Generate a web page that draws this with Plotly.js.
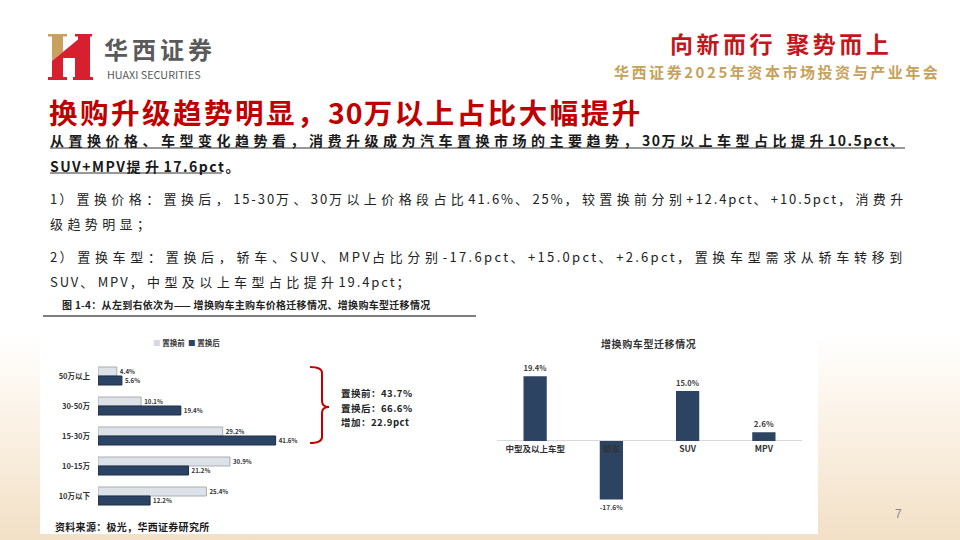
<!DOCTYPE html>
<html><head><meta charset="utf-8">
<script src="https://cdn.plot.ly/plotly-3.0.1.min.js"></script>
<style>
html,body{margin:0;padding:0;width:960px;height:540px;overflow:hidden;}
body{background:linear-gradient(to bottom,#ffffff 0%,#ffffff 62%,#fbf2e6 78%,#f2e0c6 100%);}
#chart{width:960px;height:540px;}
</style></head><body><div id="chart"></div>
<script>
// ---- data ----
const priceCats = ['50万以上','30-50万','15-30万','10-15万','10万以下'];
const priceBefore = [4.4,10.1,29.2,30.9,25.4];
const priceAfter = [5.6,19.4,41.6,21.2,12.2];
const seriesNames = ['置换前','置换后'];
const typeCats = ['中型及以上车型','轿车','SUV','MPV'];
const typeChange = [19.4,-17.6,15.0,2.6];

// ---- helpers ----
const W=960,H=540;
const px=x=>x/W, py=y=>1-y/H;
const F='"Noto Sans CJK SC","Noto Sans",sans-serif';
function sp(str, lsF, lsH){
  return str.replace(/([\u2014\u3000-\u303f\u4e00-\u9fff\uff00-\uffef]+)|([^\u2014\u3000-\u303f\u4e00-\u9fff\uff00-\uffef]+)/g,
    (m,a,b)=> a ? `<span style="letter-spacing:${lsF}px">${a}</span>` : `<span style="letter-spacing:${lsH}px">${b}</span>`);
}
function ann(text,x,y,size,color,weight,xanchor){
  return {xref:'paper',yref:'paper',x:px(x),y:py(y),xanchor:xanchor||'left',yanchor:'middle',
    text:text,showarrow:false,borderpad:0,font:{family:F,size:size,color:color,weight:weight||400}};
}
function path(pts){
  return pts.replace(/(-?\d+(\.\d+)?),(-?\d+(\.\d+)?)/g,(m,a,b,c)=>px(+a).toFixed(5)+','+py(+c).toFixed(5));
}
const pct=v=>v.toFixed(1)+'%';
const sum3=a=>a.slice(0,3).reduce((s,v)=>s+v,0);

// ---- traces ----
const traces=[
  {type:'bar',orientation:'h',name:seriesNames[0],y:priceCats,x:priceBefore,xaxis:'x',yaxis:'y',
   marker:{color:'#dde2e9',line:{color:'#a9adb3',width:1}},
   text:priceBefore.map(pct),textposition:'outside',cliponaxis:false,
   textfont:{family:F,size:7.5,color:'#333',weight:700}},
  {type:'bar',orientation:'h',name:seriesNames[1],y:priceCats,x:priceAfter,xaxis:'x',yaxis:'y',
   marker:{color:'#2b4465',line:{color:'#1b2c42',width:1}},
   text:priceAfter.map(pct),textposition:'outside',cliponaxis:false,
   textfont:{family:F,size:7.5,color:'#333',weight:700}},
  {type:'bar',x:typeCats,y:typeChange,xaxis:'x2',yaxis:'y2',width:0.305,offset:-0.1525,
   marker:{color:'#2c4361'},
   text:typeChange.map(pct),textposition:'outside',cliponaxis:false,
   textfont:{family:F,size:8,color:'#404040',weight:700}}
];

// ---- layout ----
const annotations=[
  ann(sp('华西证券',4,0),103,48.5,24,'#5a5a5a',700),
  ann('HUAXI SECURITIES',106,74,10.8,'#595959',400),
  ann(sp('向新而行 聚势而上',3.5,5),669,43,23,'#c4161c',700),
  ann(sp('华西证券2025年资本市场投资与产业年会',2.55,2.55),613,72,15,'#c6a25a',700),
  ann(sp('换购升级趋势明显，30万以上占比大幅提升',2.5,1),48,112,28.5,'#c00000',700),
  ann(sp('从置换价格、车型变化趋势看，消费升级成为汽车置换市场的主要趋势，30万以上车型占比提升10.5pct、',4.5,1.5),49,140,14,'#1a1a1a',700),
  ann(sp('SUV+MPV提升17.6pct。',4.5,1.5),49,166,14,'#1a1a1a',700),
  ann(sp('1）置换价格：置换后，15-30万、30万以上价格段占比41.6%、25%，较置换前分别+12.4pct、+10.5pct，消费升',4.4,1.9),49,199,13,'#222',400),
  ann(sp('级趋势明显；',4.4,1.9),49,224,13,'#222',400),
  ann(sp('2）置换车型：置换后，轿车、SUV、MPV占比分别-17.6pct、+15.0pct、+2.6pct，置换车型需求从轿车转移到',4.7,2.3),49,256,13,'#222',400),
  ann(sp('SUV、MPV，中型及以上车型占比提升19.4pct；',4.4,1.9),49,281,13,'#222',400),
  ann(sp('图 1-4：从左到右依次为—— 增换购车主购车价格迁移情况、增换购车型迁移情况',0.3,0.3),61,304,10,'#222',700),
  ann(`<span style="color:#d5dae2">■</span> ${seriesNames[0]}  <span style="color:#2b4465">■</span> ${seriesNames[1]}`,152,342,7.5,'#333',700),
  ann(sp(`置换前：${sum3(priceBefore).toFixed(1)}%`,0.5,0.5),340,393,9.5,'#222',700),
  ann(sp(`置换后：${sum3(priceAfter).toFixed(1)}%`,0.5,0.5),340,407.5,9.5,'#222',700),
  ann(sp(`增加：${(sum3(priceAfter)-sum3(priceBefore)).toFixed(1)}pct`,0.5,0.5),340,422,9.5,'#222',700),
  ann(sp('增换购车型迁移情况',0.6,0),648,343,10,'#333',700,'center'),
  ann(sp('资料来源：极光，华西证券研究所',0.3,0.3),54,526,10,'#1a1a1a',700),
  {xref:'paper',yref:'paper',x:px(898),y:py(514),xanchor:'center',yanchor:'middle',text:'7',showarrow:false,
   font:{family:'"Liberation Sans Narrow","Liberation Sans",sans-serif',size:12,color:'#8a8a8a'}}
];

const shapes=[
  {type:'rect',xref:'paper',yref:'paper',x0:px(40),x1:px(818),y0:py(534),y1:py(289),fillcolor:'#ffffff',line:{width:0},layer:'below'},
  {type:'line',xref:'paper',yref:'paper',x0:px(43),x1:px(476),y0:py(316),y1:py(316),line:{color:'#555',width:1.5}},
  {type:'line',xref:'paper',yref:'paper',x0:px(50),x1:px(905),y0:py(148),y1:py(148),line:{color:'#333',width:1.2}},
  {type:'line',xref:'paper',yref:'paper',x0:px(50),x1:px(222),y0:py(173),y1:py(173),line:{color:'#333',width:1.2}},
  {type:'path',xref:'paper',yref:'paper',line:{color:'#c00000',width:2},
   path:path('M 310,367 Q 322,367 322,373 L 322,401 Q 322,407 329,407 Q 322,407 322,413 L 322,437 Q 322,443 310,443')},
  // logo
  {type:'path',xref:'paper',yref:'paper',fillcolor:'#c8a25c',line:{width:0},
   path:path('M 48,34 L 67,34 L 67,36.5 L 63,36.5 L 63,52 L 52,61 L 52,36.5 L 48,36.5 Z')},
  {type:'path',xref:'paper',yref:'paper',fillcolor:'#d71f2f',line:{width:0},
   path:path('M 52,61 L 78,39.6 L 78,36.5 L 75,36.5 L 75,34 L 92,34 L 92,36.5 L 90,36.5 L 90,77 L 93,77 L 93,80 L 73,80 L 73,77 L 75,77 L 75,58 L 63,58 L 63,77 L 67,77 L 67,80 L 48,80 L 48,77 L 52,77 Z')}
];

const layout={
  width:960,height:540,margin:{l:0,r:0,t:0,b:0},
  paper_bgcolor:'rgba(0,0,0,0)',plot_bgcolor:'rgba(0,0,0,0)',
  showlegend:false,barmode:'group',bargap:0.4,bargroupgap:0,
  font:{family:F},
  xaxis:{domain:[px(98),px(311.5)],range:[0,50],visible:false,anchor:'y',fixedrange:true},
  yaxis:{domain:[py(511),py(361)],type:'category',autorange:'reversed',anchor:'x',
    showgrid:false,zeroline:false,showline:false,ticks:'',ticklabelstandoff:7,
    tickfont:{family:F,size:7.5,color:'#333',weight:700}},
  xaxis2:{domain:[px(497),px(802)],type:'category',anchor:'free',position:py(441),
    showgrid:false,zeroline:false,showline:false,ticks:'',ticklabelstandoff:1,
    tickfont:{family:F,size:8.5,color:'#333',weight:700}},
  yaxis2:{domain:[py(507.6),py(367.7)],range:[-20,22],anchor:'x2',
    showgrid:false,showticklabels:false,ticks:'',showline:false,
    zeroline:true,zerolinecolor:'#d9d9d9',zerolinewidth:1},
  annotations:annotations,shapes:shapes
};
Plotly.newPlot('chart',traces,layout,{staticPlot:true,displayModeBar:false});
</script></body></html>
